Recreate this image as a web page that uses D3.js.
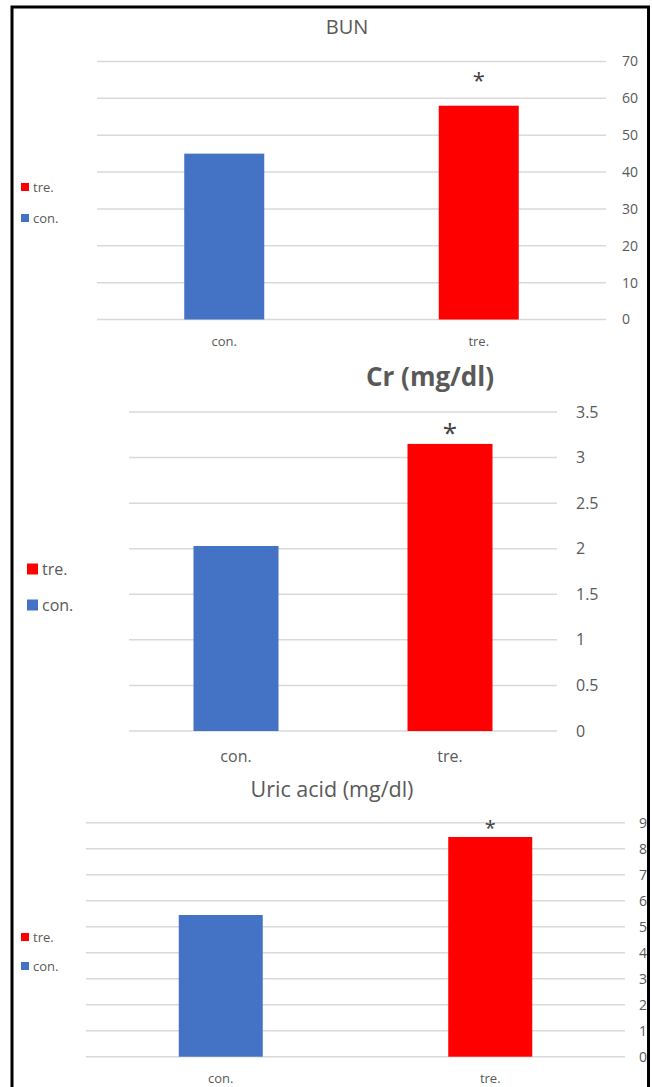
<!DOCTYPE html>
<html>
<head>
<meta charset="utf-8">
<script src="https://cdn.jsdelivr.net/npm/d3@7"></script>
<style>
  body { margin: 0; background: #fff; }
  svg { display: block; font-family: "Open Sans", sans-serif; }
</style>
</head>
<body>
<div id="chart"></div>
<script>
// data
const categories = ["con.", "tre."];
const legendOrder = ["tre.", "con."];
const bunValues = [45, 58];
const crValues = [2.03, 3.15];
const uricValues = [5.45, 8.45];
const bunTicks = [0, 10, 20, 30, 40, 50, 60, 70];
const crTicks = [0, 0.5, 1, 1.5, 2, 2.5, 3, 3.5];
const uricTicks = [0, 1, 2, 3, 4, 5, 6, 7, 8, 9];
const significant = ["tre."];

const color = { "con.": "#4472C4", "tre.": "#FF0000" };
const textGray = "#595959";

const width = 652, height = 1087;

const svg = d3.select("#chart")
    .append("svg")
    .attr("width", width)
    .attr("height", height);

// layout of the three panels
const panels = [
    {
        title: "BUN", titleBold: false, titleSize: 20, titleX: 347, titleY: 34,
        values: bunValues, ticks: bunTicks,
        left: 97, right: 606, top: 61.5, bottom: 319.5, barWidth: 80,
        tickX: 622, tickSize: 14, catY: 346, catSize: 13,
        legendX: 21, legendY: [187, 218], legendSq: 8, legendSize: 13,
        starSize: 22, starDy: 37
    },
    {
        title: "Cr (mg/dl)", titleBold: true, titleSize: 26, titleX: 430, titleY: 386,
        values: crValues, ticks: crTicks,
        left: 129, right: 557, top: 412, bottom: 731, barWidth: 85,
        tickX: 576, tickSize: 16, catY: 762, catSize: 16,
        legendX: 27, legendY: [569, 605], legendSq: 11, legendSize: 16,
        starSize: 26, starDy: 24
    },
    {
        title: "Uric acid (mg/dl)", titleBold: false, titleSize: 21.5, titleX: 332, titleY: 797,
        values: uricValues, ticks: uricTicks,
        left: 86, right: 625, top: 822.7, bottom: 1056.7, barWidth: 84,
        tickX: 639, tickSize: 14, catY: 1083, catSize: 13,
        legendX: 21, legendY: [937, 966], legendSq: 8, legendSize: 13,
        starSize: 20, starDy: 19
    }
];

panels.forEach(p => {
    const g = svg.append("g");
    const maxTick = d3.max(p.ticks);

    const x = d3.scaleBand()
        .domain(categories)
        .range([p.left, p.right])
        .paddingInner(0)
        .paddingOuter(0);

    const y = d3.scaleLinear()
        .domain([0, maxTick])
        .range([p.bottom, p.top]);

    // horizontal grid lines
    g.selectAll(".grid")
        .data(p.ticks)
        .enter().append("line")
        .attr("x1", p.left)
        .attr("x2", p.right)
        .attr("y1", d => y(d))
        .attr("y2", d => y(d))
        .attr("stroke", "#d9d9d9")
        .attr("stroke-width", 1.5);

    // value axis on the right
    const yAxis = d3.axisRight(y)
        .tickValues(p.ticks)
        .tickSize(0)
        .tickPadding(0)
        .tickFormat(d3.format("~g"));
    const axisG = g.append("g")
        .attr("transform", `translate(${p.tickX},0)`)
        .call(yAxis);
    axisG.select(".domain").remove();
    axisG.selectAll("text")
        .attr("fill", textGray)
        .attr("font-size", p.tickSize)
        .attr("font-family", "Open Sans, sans-serif");

    // bars
    g.selectAll(".bar")
        .data(categories)
        .enter().append("rect")
        .attr("x", (d) => x(d) + x.bandwidth() / 2 - p.barWidth / 2)
        .attr("width", p.barWidth)
        .attr("y", (d, i) => y(p.values[i]))
        .attr("height", (d, i) => y(0) - y(p.values[i]))
        .attr("fill", d => color[d]);

    // significance marks
    g.selectAll(".star")
        .data(categories.filter(c => significant.includes(c)))
        .enter().append("text")
        .attr("x", d => x(d) + x.bandwidth() / 2)
        .attr("y", d => y(p.values[categories.indexOf(d)]) - p.starDy)
        .attr("text-anchor", "middle")
        .attr("dominant-baseline", "hanging")
        .attr("fill", "#404040")
        .attr("font-size", p.starSize)
        .text("*");

    // category labels
    g.selectAll(".cat")
        .data(categories)
        .enter().append("text")
        .attr("x", d => x(d) + x.bandwidth() / 2)
        .attr("y", p.catY)
        .attr("text-anchor", "middle")
        .attr("fill", textGray)
        .attr("font-size", p.catSize)
        .text(d => d);

    // title
    g.append("text")
        .attr("x", p.titleX)
        .attr("y", p.titleY)
        .attr("text-anchor", "middle")
        .attr("fill", textGray)
        .attr("font-size", p.titleSize)
        .attr("font-weight", p.titleBold ? "bold" : "normal")
        .text(p.title);

    // legend
    const legend = g.append("g");
    legendOrder.forEach((name, i) => {
        legend.append("rect")
            .attr("x", p.legendX)
            .attr("y", p.legendY[i] - p.legendSq / 2)
            .attr("width", p.legendSq)
            .attr("height", p.legendSq)
            .attr("fill", color[name]);
        legend.append("text")
            .attr("x", p.legendX + p.legendSq + 4)
            .attr("y", p.legendY[i])
            .attr("dy", "0.35em")
            .attr("fill", textGray)
            .attr("font-size", p.legendSize)
            .text(name);
    });
});

// black frame around the figure
svg.append("path")
    .attr("d", "M12,1090 V7 H648.5 V1090")
    .attr("fill", "none")
    .attr("stroke", "black")
    .attr("stroke-width", 3);
</script>
</body>
</html>
